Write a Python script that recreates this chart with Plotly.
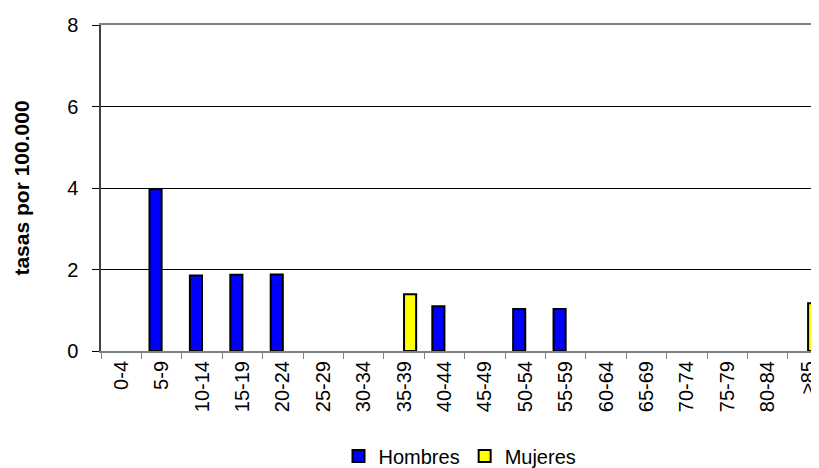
import plotly.graph_objects as go

grupos = ['0-4', '5-9', '10-14', '15-19', '20-24', '25-29', '30-34', '35-39', '40-44',
          '45-49', '50-54', '55-59', '60-64', '65-69', '70-74', '75-79', '80-84', '≥85']
# None = sin valor (no se dibuja barra)
hombres = [None, 3.97, 1.85, 1.87, 1.88, None, None, None, 1.10, None, 1.03, 1.03,
           None, None, None, None, None, None]
mujeres = [None, None, None, None, None, None, None, 1.39, None, None, None, None,
           None, None, None, None, None, 1.17]

fig = go.Figure()
fig.add_trace(go.Bar(x=grupos, y=hombres, name='Hombres',
                     marker=dict(color='#0000FF', line=dict(color='black', width=2))))
fig.add_trace(go.Bar(x=grupos, y=mujeres, name='Mujeres',
                     marker=dict(color='#FFFF00', line=dict(color='black', width=2))))

# la página tiene 8px de margen en body, así que la figura es 8px más pequeña
fig.update_layout(
    width=811, height=460,
    barmode='group', bargap=0.4, bargroupgap=0,
    plot_bgcolor='white', paper_bgcolor='white',
    font=dict(family='Liberation Sans, Arial', size=20, color='black'),
    margin=dict(l=93, r=0, t=17, b=117, autoexpand=False),
    showlegend=True,
    legend=dict(orientation='h', x=0.5, xanchor='center', y=-0.262, yanchor='top',
                font=dict(size=20), itemwidth=30, tracegroupgap=0),
    xaxis=dict(type='category', range=[-0.5, 17.27], tickangle=-90,
               tickson='boundaries', ticks='outside', ticklen=6, tickcolor='#808080',
               showline=True, linecolor='#808080', linewidth=2, mirror=True,
               tickfont=dict(size=20), showgrid=False, automargin=False),
    yaxis=dict(range=[0, 8], dtick=2, ticks='outside', ticklen=7, tickcolor='black',
               showgrid=True, gridcolor='black', gridwidth=1,
               showline=True, linecolor='#404040', linewidth=1.5,
               zeroline=False, tickfont=dict(size=20), automargin=False,
               ticklabelstandoff=10,
               title=dict(text='<b>tasas por 100.000</b>', font=dict(size=21), standoff=32)),
)

fig.write_html('out.html')
